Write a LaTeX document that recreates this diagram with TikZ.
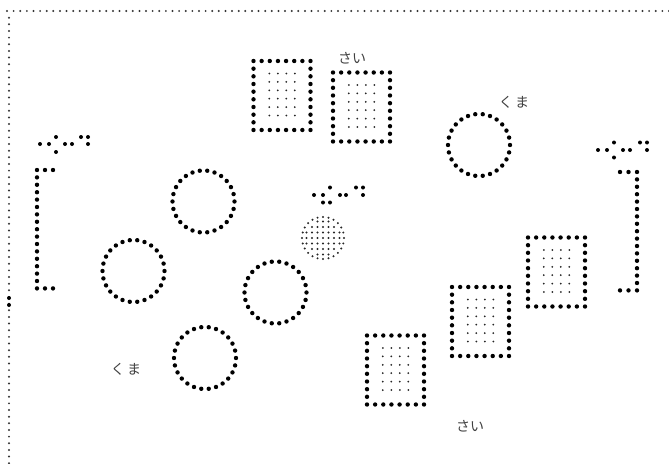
\documentclass[tikz,border=0pt]{standalone}
\usepackage{fontspec}
\newfontfamily\jpfont{Noto Sans CJK JP}
\begin{document}
\begin{tikzpicture}[x=1pt, y=-1pt,
    bdot/.style={fill=black},
    sdot/.style={fill=black!85},
    framedot/.style={fill=black!80},
    jptext/.style={font=\jpfont\fontsize{14}{16}\selectfont, text=black!75, inner sep=0pt},
    ring/.pic={\foreach \k in {0,...,25} \fill[bdot] ({\k*360/26}:31) circle (2.2pt);},
    seat/.pic={
        \foreach \i in {0,...,7} {
            \fill[bdot] (-28.5+\i*57/7,-34.5) circle (2.2pt);
            \fill[bdot] (-28.5+\i*57/7,34.5) circle (2.2pt);
        }
        \foreach \j in {1,...,8} {
            \fill[bdot] (-28.5,-34.5+\j*69/9) circle (2.2pt);
            \fill[bdot] (28.5,-34.5+\j*69/9) circle (2.2pt);
        }
        \foreach \i in {0,...,3}
            \foreach \j in {0,...,5}
                \fill[sdot] (-12.75+\i*8.5,-22+\j*8.4) circle (1pt);
    },
    shadedring/.pic={
        \foreach \k in {0,...,23} \fill[sdot] ({\k*15}:21) circle (1.1pt);
        \foreach \j/\n in {-3/1,-2/2,-1/3,0/3,1/3,2/2,3/1}
            \foreach \i in {-\n,...,\n}
                \fill[sdot] (\i*5.5,\j*5.5) circle (1.1pt);
    }
]
\useasboundingbox (0,0) rectangle (669,463);

% frame
\foreach \i in {0,...,100} \fill[framedot] (7+\i*6.62,11) circle (1.1pt);
\foreach \j in {1,...,68} \fill[framedot] (9,11+\j*6.65) circle (1.1pt);
\fill[bdot] (9,298) circle (2pt);
\fill[bdot] (9,305) circle (2pt);

% brackets
\foreach \j in {0,...,16} {
    \fill[bdot] (37,170+\j*7.4) circle (2.2pt);
    \fill[bdot] (637,172+\j*7.4) circle (2.2pt);
}
\foreach \x in {45,53} {
    \fill[bdot] (\x,170) circle (2.2pt);
    \fill[bdot] (\x,288.4) circle (2.2pt);
}
\foreach \x in {620,628.5} {
    \fill[bdot] (\x,172) circle (2.2pt);
    \fill[bdot] (\x,290.4) circle (2.2pt);
}

% braille
\foreach \x/\y in {40/144,49/144,56/137,56/152,65/144,72/144,81/137,88/137,88/144}
    \fill[bdot] (\x,\y) circle (2pt);
\foreach \x/\y in {598/150,607/150,614/142.5,614/157.5,623/150,630/150,640/142.5,647/142.5,647/150}
    \fill[bdot] (\x,\y) circle (2pt);
\foreach \x/\y in {314/195,323/195,330/187.5,323/202.5,330/202.5,340/195,346/195,356/187.5,363/187.5,363/195}
    \fill[bdot] (\x,\y) circle (2pt);

% rings
\pic (ringa) at (203.5,201.5) {ring};
\pic (ringb) at (133.5,271) {ring};
\pic (ringc) at (275.5,292.5) {ring};
\pic (ringd) at (205,358) {ring};
\pic (ringe) at (479,145) {ring};
\pic (ringf) at (323,238) {shadedring};

% seats
\pic (seata) at (282,95.5) {seat};
\pic (seatb) at (361.5,107) {seat};
\pic (seatc) at (395.5,370) {seat};
\pic (seatd) at (480.5,321.5) {seat};
\pic (seate) at (556.5,272) {seat};

% labels
\node[jptext] (sai1) at (352,58) {さい};
\node[jptext] (kuma1) at (514,102) {く\,ま};
\node[jptext] (kuma2) at (126,369) {く\,ま};
\node[jptext] (sai2) at (470,426) {さい};
\end{tikzpicture}
\end{document}
